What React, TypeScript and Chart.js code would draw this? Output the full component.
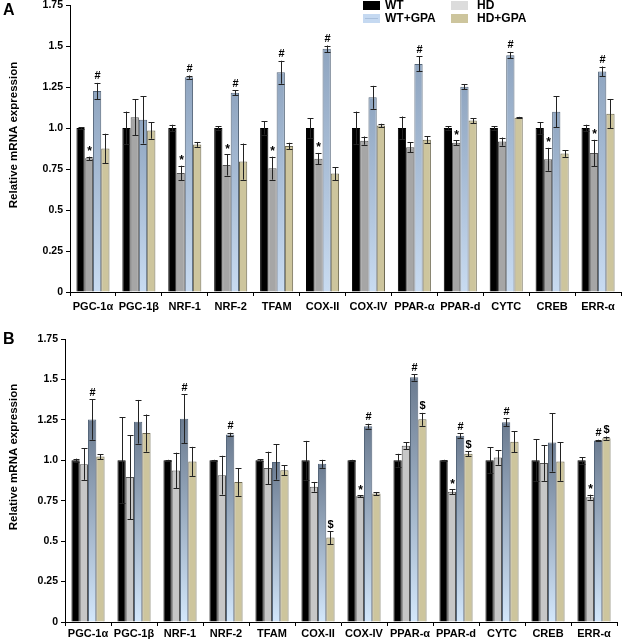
import React, { useEffect, useRef } from "react";
import { Chart, registerables } from "chart.js";
Chart.register(...registerables);

const categories = ["PGC-1α", "PGC-1β", "NRF-1", "NRF-2", "TFAM", "COX-II", "COX-IV", "PPAR-α", "PPAR-d", "CYTC", "CREB", "ERR-α"];
const seriesNames = ["WT", "HD", "WT+GPA", "HD+GPA"];
const yTickValues = [0, 0.25, 0.5, 0.75, 1.0, 1.25, 1.5, 1.75];
const yTickLabels = ["0", "0.25", "0.5", "0.75", "1.0", "1.25", "1.5", "1.75"];
const yAxisTitle = "Relative mRNA expression";

// Panel A values
const aWT = [1, 1, 1, 1, 1, 1, 1, 1, 1, 1, 1, 1];
const aHD = [0.815, 1.065, 0.725, 0.775, 0.755, 0.813, 0.923, 0.882, 0.91, 0.917, 0.809, 0.848];
const aWTGPA = [1.225, 1.05, 1.31, 1.215, 1.34, 1.483, 1.187, 1.391, 1.251, 1.444, 1.099, 1.345];
const aHDGPA = [0.875, 0.985, 0.9, 0.795, 0.89, 0.722, 1.016, 0.929, 1.045, 1.063, 0.844, 1.087];
const aWTErr = [0.005, 0.1, 0.02, 0.01, 0.04, 0.06, 0.1, 0.07, 0.01, 0.01, 0.035, 0.02];
const aHDErr = [0.01, 0.11, 0.045, 0.065, 0.07, 0.035, 0.025, 0.03, 0.015, 0.025, 0.07, 0.08];
const aWTGPAErr = [0.05, 0.145, 0.01, 0.015, 0.07, 0.02, 0.07, 0.045, 0.015, 0.02, 0.095, 0.03];
const aHDGPAErr = [0.09, 0.05, 0.015, 0.11, 0.02, 0.04, 0.01, 0.02, 0.015, 0.005, 0.02, 0.09];
const aWTMarks = ["", "", "", "", "", "", "", "", "", "", "", ""];
const aHDMarks = ["*", "", "*", "*", "*", "*", "", "", "*", "", "*", "*"];
const aWTGPAMarks = ["#", "", "#", "#", "#", "#", "", "#", "", "#", "", "#"];
const aHDGPAMarks = ["", "", "", "", "", "", "", "", "", "", "", ""];

// Panel B values
const bWT = [1, 1, 1, 1, 1, 1, 1, 1, 1, 1, 1, 1];
const bHD = [0.976, 0.896, 0.937, 0.908, 0.953, 0.836, 0.778, 1.09, 0.805, 1.017, 0.983, 0.772];
const bWTGPA = [1.252, 1.238, 1.257, 1.16, 0.99, 0.978, 1.211, 1.513, 1.151, 1.235, 1.11, 1.122];
const bHDGPA = [1.023, 1.168, 0.993, 0.865, 0.939, 0.522, 0.794, 1.253, 1.04, 1.114, 0.993, 1.137];
const bWTErr = [0.01, 0.265, 0.003, 0.003, 0.005, 0.12, 0.003, 0.04, 0.003, 0.08, 0.13, 0.02];
const bHDErr = [0.097, 0.26, 0.11, 0.12, 0.1, 0.03, 0.005, 0.02, 0.015, 0.045, 0.11, 0.015];
const bWTGPAErr = [0.125, 0.135, 0.15, 0.01, 0.11, 0.025, 0.015, 0.02, 0.015, 0.025, 0.18, 0.005];
const bHDGPAErr = [0.015, 0.115, 0.09, 0.085, 0.03, 0.04, 0.01, 0.04, 0.015, 0.065, 0.12, 0.01];
const bWTMarks = ["", "", "", "", "", "", "", "", "", "", "", ""];
const bHDMarks = ["", "", "", "", "", "", "*", "", "*", "", "", "*"];
const bWTGPAMarks = ["#", "", "#", "#", "", "", "#", "#", "#", "#", "", "#"];
const bHDGPAMarks = ["", "", "", "", "", "$", "", "$", "$", "", "", "$"];

const FONT = "'Liberation Sans', Arial, Helvetica, sans-serif";

type PanelCfg = {
  letter: string;
  width: number;
  height: number;
  values: number[][];
  errors: number[][];
  marks: string[][];
  hdColor: string;
  gpaTop: string;
  gpaBottom: string;
  padTop: number;
  padRight: number;
  yAxisWidth: number;
  xAxisHeight: number;
  xTickPad: number;
  letterY: number;
  titleCenterY: number;
  legend: boolean;
};

function Panel({ cfg }: { cfg: PanelCfg }) {
  const ref = useRef<HTMLCanvasElement | null>(null);
  useEffect(() => {
    const canvas = ref.current;
    if (!canvas) return;

    const gpaFill = (c: any) => {
      const chart = c.chart;
      const ca = chart.chartArea;
      if (!ca || c.type !== "data") return cfg.gpaBottom;
      const y = chart.scales.y;
      const top = y.getPixelForValue(c.raw);
      const bot = y.getPixelForValue(0);
      const g = chart.ctx.createLinearGradient(0, top, 0, bot);
      g.addColorStop(0, cfg.gpaTop);
      g.addColorStop(1, cfg.gpaBottom);
      return g;
    };

    const fills: any[] = ["#000000", cfg.hdColor, gpaFill, "#cdc59d"];
    const borders = ["#000000", "#555555", "#55667a", "#6f6a52"];

    const extras = {
      id: "extras",
      afterDatasetsDraw(chart: any) {
        const ctx = chart.ctx;
        const y = chart.scales.y;
        ctx.save();
        chart.data.datasets.forEach((ds: any, di: number) => {
          const meta = chart.getDatasetMeta(di);
          meta.data.forEach((bar: any, i: number) => {
            const v = cfg.values[di][i];
            const e = cfg.errors[di][i];
            const x = Math.round(bar.x) + 0.5;
            const yt = y.getPixelForValue(v + e);
            const yb = y.getPixelForValue(v - e);
            ctx.strokeStyle = "#222";
            ctx.lineWidth = 1;
            ctx.beginPath();
            ctx.moveTo(x, yt);
            ctx.lineTo(x, yb);
            ctx.moveTo(x - 3, Math.round(yt) + 0.5);
            ctx.lineTo(x + 3, Math.round(yt) + 0.5);
            ctx.moveTo(x - 3, Math.round(yb) + 0.5);
            ctx.lineTo(x + 3, Math.round(yb) + 0.5);
            ctx.stroke();
            const m = cfg.marks[di][i];
            if (m) {
              ctx.fillStyle = "#000";
              ctx.font = `bold ${m === "*" ? 12 : 11}px ${FONT}`;
              ctx.textAlign = "center";
              ctx.textBaseline = "bottom";
              ctx.fillText(m, x, yt - (m === "*" ? -1 : 1));
            }
          });
        });
        ctx.restore();
      },
      afterDraw(chart: any) {
        const ctx = chart.ctx;
        ctx.save();
        // panel letter
        ctx.fillStyle = "#000";
        ctx.font = `bold 16px ${FONT}`;
        ctx.textAlign = "left";
        ctx.textBaseline = "alphabetic";
        ctx.fillText(cfg.letter, 3, cfg.letterY);
        // y axis title
        ctx.save();
        ctx.translate(14, cfg.titleCenterY);
        ctx.rotate(-Math.PI / 2);
        ctx.font = `bold 11.5px ${FONT}`;
        ctx.textAlign = "center";
        ctx.textBaseline = "middle";
        ctx.fillText(yAxisTitle, 0, 0);
        ctx.restore();
        if (cfg.legend) {
          const legendFills = ["#000000", "#dcdcdc", "#c5d9f1", "#cdc59d"];
          const pos = [
            [363, 1],
            [451, 1],
            [363, 14],
            [451, 14],
          ];
          ctx.font = `bold 12px ${FONT}`;
          ctx.textBaseline = "middle";
          ctx.textAlign = "left";
          seriesNames.forEach((n, i) => {
            const [lx, ly] = pos[i];
            ctx.fillStyle = legendFills[i];
            ctx.fillRect(lx, ly, 17, 9);
            if (i === 2) {
              ctx.strokeStyle = "#a9c0dd";
              ctx.beginPath();
              ctx.moveTo(lx + 2, ly + 4.5);
              ctx.lineTo(lx + 15, ly + 4.5);
              ctx.stroke();
            }
            ctx.fillStyle = "#000";
            ctx.fillText(n, lx + (i % 2 === 0 ? 22 : 26), ly + 5);
          });
        }
        ctx.restore();
      },
    };

    const chart = new Chart(canvas, {
      type: "bar",
      data: {
        labels: categories,
        datasets: seriesNames.map((n, i) => ({
          label: n,
          data: cfg.values[i],
          backgroundColor: fills[i],
          borderColor: borders[i],
          borderWidth: 1,
          categoryPercentage: 0.72,
          barPercentage: 1.0,
        })),
      },
      options: {
        responsive: false,
        animation: false,
        devicePixelRatio: 1,
        layout: { padding: { top: cfg.padTop, right: cfg.padRight, left: 0, bottom: 0 } },
        plugins: { legend: { display: false }, tooltip: { enabled: false } },
        scales: {
          x: {
            offset: true,
            grid: { display: true, drawOnChartArea: false, drawTicks: true, tickLength: 4, color: "#000", offset: true },
            border: { display: true, color: "#000", width: 1 },
            ticks: {
              color: "#000",
              padding: cfg.xTickPad,
              maxRotation: 0,
              autoSkip: false,
              font: { family: FONT, weight: "bold", size: 11 },
            },
            afterFit(scale: any) {
              scale.height = cfg.xAxisHeight;
              scale.paddingLeft = 0;
              scale.paddingRight = 0;
            },
          },
          y: {
            min: 0,
            max: 1.75,
            afterBuildTicks(scale: any) {
              scale.ticks = yTickValues.map((v) => ({ value: v }));
            },
            grid: { display: true, drawOnChartArea: false, drawTicks: true, tickLength: 4, color: "#000" },
            border: { display: true, color: "#000", width: 1 },
            ticks: {
              color: "#000",
              padding: 3,
              font: { family: FONT, weight: "bold", size: 10.5 },
              callback: (_v: any, idx: number) => yTickLabels[idx],
            },
            afterFit(scale: any) {
              scale.width = cfg.yAxisWidth;
              scale.paddingTop = 0;
              scale.paddingBottom = 0;
            },
          },
        },
      },
      plugins: [extras],
    } as any);
    return () => chart.destroy();
  }, [cfg]);
  return <canvas ref={ref} width={cfg.width} height={cfg.height} style={{ display: "block", width: cfg.width, height: cfg.height }} />;
}

const panelA: PanelCfg = {
  letter: "A",
  width: 624,
  height: 318,
  values: [aWT, aHD, aWTGPA, aHDGPA],
  errors: [aWTErr, aHDErr, aWTGPAErr, aHDGPAErr],
  marks: [aWTMarks, aHDMarks, aWTGPAMarks, aHDGPAMarks],
  hdColor: "#a6a6a6",
  gpaTop: "#8fa5c0",
  gpaBottom: "#c8dbf1",
  padTop: 5,
  padRight: 3,
  yAxisWidth: 70,
  xAxisHeight: 26,
  xTickPad: 4,
  letterY: 15,
  titleCenterY: 135,
  legend: true,
};

const panelB: PanelCfg = {
  letter: "B",
  width: 624,
  height: 321,
  values: [bWT, bHD, bWTGPA, bHDGPA],
  errors: [bWTErr, bHDErr, bWTGPAErr, bHDGPAErr],
  marks: [bWTMarks, bHDMarks, bWTGPAMarks, bHDGPAMarks],
  hdColor: "#c7c7c7",
  gpaTop: "#6b7b90",
  gpaBottom: "#d3e7fb",
  padTop: 21,
  padRight: 7,
  yAxisWidth: 65,
  xAxisHeight: 17,
  xTickPad: 1,
  letterY: 26,
  titleCenterY: 139,
  legend: false,
};

export default function App() {
  return (
    <div style={{ position: "absolute", left: 0, top: 0, width: 624, height: 639, background: "#fff" }}>
      <Panel cfg={panelA} />
      <Panel cfg={panelB} />
    </div>
  );
}
